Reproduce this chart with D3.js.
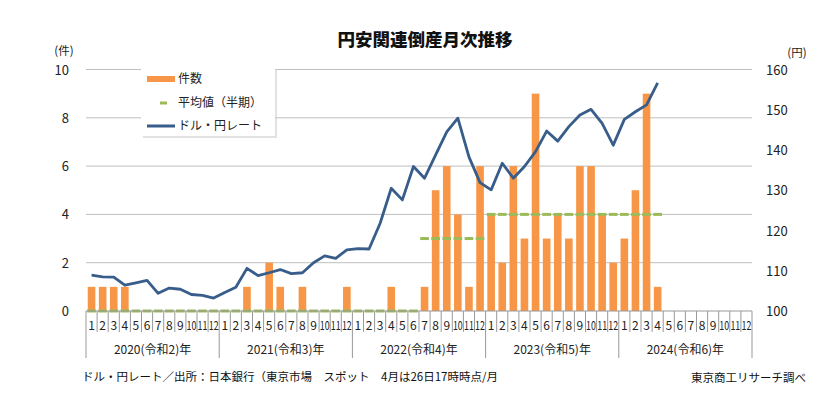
<!DOCTYPE html>
<html><head><meta charset="utf-8">
<script src="https://cdn.jsdelivr.net/npm/d3@7"></script>
<style>
body{margin:0;background:#fff;}
text{font-family:"Noto Sans CJK JP","Noto Sans",sans-serif;}
</style></head>
<body><svg id="c" width="826" height="415"></svg>
<script>
const years = ["2020(令和2)年","2021(令和3)年","2022(令和4)年","2023(令和5)年","2024(令和6)年"];
const monthLabels = ["1","2","3","4","5","6","7","8","9","10","11","12"];
// 件数 per month 2020-01 .. 2024-04
const counts = [1,1,1,1,0,0,0,0,0,0,0,0,
                0,0,1,0,2,1,0,1,0,0,0,1,
                0,0,0,1,0,0,1,5,6,4,1,6,
                4,2,6,3,9,3,4,3,6,6,4,2,
                3,5,9,1];
// 平均値（半期）
const avgVals = [0,0,0,0,0,0,0,0,0,0,0,0,
                 0,0,0,0,0,0,0,0,0,0,0,0,
                 0,0,0,0,0,0,3,3,3,3,3,3,
                 4,4,4,4,4,4,4,4,4,4,4,4,
                 4,4,4,4];
// ドル・円レート
const rate = [108.9,108.5,108.4,106.4,107.0,107.6,104.4,105.7,105.4,104.1,103.9,103.2,
              104.6,105.9,110.6,108.8,109.5,110.3,109.3,109.5,112.0,113.7,113.1,115.2,
              115.5,115.4,121.8,130.5,127.6,135.9,133.0,138.8,144.5,147.9,138.3,131.9,
              130.1,136.7,133.0,135.9,139.6,144.7,142.2,145.8,148.7,150.1,146.6,141.2,
              147.6,149.5,151.2,156.7];
const leftTicks = [0,2,4,6,8,10];
const rightTicks = [100,110,120,130,140,150,160];

const svg = d3.select("#c");
const L = 86, R = 752, T = 69.5, B = 311;
const nMonths = years.length * 12;
const idx = d3.range(nMonths);
const x = d3.scaleBand().domain(idx).range([L, R]).paddingInner(0).paddingOuter(0);
const yL = d3.scaleLinear().domain([0,10]).range([B, T]);
const yR = d3.scaleLinear().domain([100,160]).range([B, T]);

// title
svg.append("text").attr("x", 425).attr("y", 46).attr("text-anchor","middle")
  .attr("font-size", 17.5).attr("font-weight","900").attr("fill","#111").text("円安関連倒産月次推移");

// gridlines
svg.append("g").selectAll("line").data(leftTicks.filter(d=>d>0)).join("line")
  .attr("x1", L).attr("x2", R).attr("y1", d=>yL(d)).attr("y2", d=>yL(d))
  .attr("stroke","#bfbfbf").attr("stroke-width",1);

// left axis
const gl = svg.append("g").attr("transform",`translate(${L-16},0)`)
  .call(d3.axisLeft(yL).tickValues(leftTicks).tickSize(0).tickPadding(2));
gl.select(".domain").remove();
gl.selectAll("text").attr("font-size",13).attr("fill","#222").attr("font-family","'DejaVu Sans',sans-serif").attr("dy","0.35em").attr("x",-1);
svg.append("text").attr("x",64).attr("y",55).attr("text-anchor","middle").attr("font-size",11.5).attr("fill","#222").text("(件)");

// right axis
const gr = svg.append("g").attr("transform",`translate(${R+12},0)`)
  .call(d3.axisRight(yR).tickValues(rightTicks).tickSize(0).tickPadding(2));
gr.select(".domain").remove();
gr.selectAll("text").attr("font-size",13).attr("fill","#222").attr("font-family","'DejaVu Sans',sans-serif").attr("dy","0.35em");
svg.append("text").attr("x",797).attr("y",57).attr("text-anchor","middle").attr("font-size",11.5).attr("fill","#222").text("(円)");

// bars
const bw = 7.6;
svg.append("g").selectAll("rect").data(counts).join("rect")
  .attr("x",(d,i)=>x(i)+x.bandwidth()/2-bw/2).attr("width",bw)
  .attr("y",d=>yL(d)).attr("height",d=>B-yL(d)).attr("fill","#F79646");

// average dashed (one dash per month)
svg.append("g").selectAll("line").data(avgVals).join("line")
  .attr("x1",(d,i)=>x(i)+1.2).attr("x2",(d,i)=>x(i)+x.bandwidth()-1.2)
  .attr("y1",d=>yL(d)).attr("y2",d=>yL(d))
  .attr("stroke","#9BBB59").attr("stroke-width",3);

// x axis
svg.append("line").attr("x1",L).attr("x2",R).attr("y1",B).attr("y2",B).attr("stroke","#999").attr("stroke-width",1);
const xa = svg.append("g");
xa.selectAll("line.m").data(d3.range(nMonths+1)).join("line").attr("class","m")
  .attr("x1",d=> d<nMonths? x(d): R).attr("x2",d=> d<nMonths? x(d): R)
  .attr("y1",B).attr("y2",d=> d%12===0 ? 358 : 332)
  .attr("stroke","#999").attr("stroke-width",1);
xa.selectAll("text.m").data(idx).join("text").attr("class","m")
  .attr("transform",d=>{
    const cx = x(d)+x.bandwidth()/2;
    return monthLabels[d%12].length>1 ? `translate(${cx},330) scale(0.74,1)` : `translate(${cx},330)`;
  })
  .attr("text-anchor","middle")
  .attr("font-size",12).attr("fill","#222").attr("font-family","'DejaVu Sans',sans-serif")
  .text(d=>monthLabels[d%12]);
xa.selectAll("text.y").data(years).join("text").attr("class","y")
  .attr("x",(d,i)=>(x(i*12)+ (i*12+12<nMonths? x(i*12+12): R))/2).attr("y",354).attr("text-anchor","middle")
  .attr("font-size",12).attr("fill","#222").text(d=>d);

// rate line
svg.append("path").datum(rate)
  .attr("d", d3.line().x((d,i)=>x(i)+x.bandwidth()/2).y(d=>yR(d)))
  .attr("fill","none").attr("stroke","#385D8A").attr("stroke-width",2.8).attr("stroke-linejoin","round");

// legend
const lg = svg.append("g");
lg.append("rect").attr("x",143).attr("y",69).attr("width",134).attr("height",69).attr("fill","#cfcfcf").attr("opacity",0.6);
lg.append("rect").attr("x",141).attr("y",67).attr("width",134).attr("height",69).attr("fill","#fff");
lg.append("line").attr("x1",147).attr("x2",175).attr("y1",79).attr("y2",79).attr("stroke","#F79646").attr("stroke-width",6);
lg.append("line").attr("x1",160).attr("x2",167).attr("y1",103).attr("y2",103).attr("stroke","#9BBB59").attr("stroke-width",3);
lg.append("line").attr("x1",147).attr("x2",175).attr("y1",126).attr("y2",126).attr("stroke","#385D8A").attr("stroke-width",3);
const ltext = ["件数","平均値（半期）","ドル・円レート"];
lg.selectAll("text").data(ltext).join("text")
  .attr("x",178).attr("y",(d,i)=>[79,103,126][i]).attr("dy","0.35em")
  .attr("font-size",12).attr("fill","#222").text(d=>d);

// notes
svg.append("text").attr("x",82).attr("y",381).attr("font-size",11.5).attr("fill","#111")
  .text("ドル・円レート／出所：日本銀行（東京市場　スポット　4月は26日17時時点/月");
svg.append("text").attr("x",806).attr("y",382).attr("text-anchor","end").attr("font-size",11.5).attr("fill","#111")
  .text("東京商工リサーチ調べ");
</script></body></html>
